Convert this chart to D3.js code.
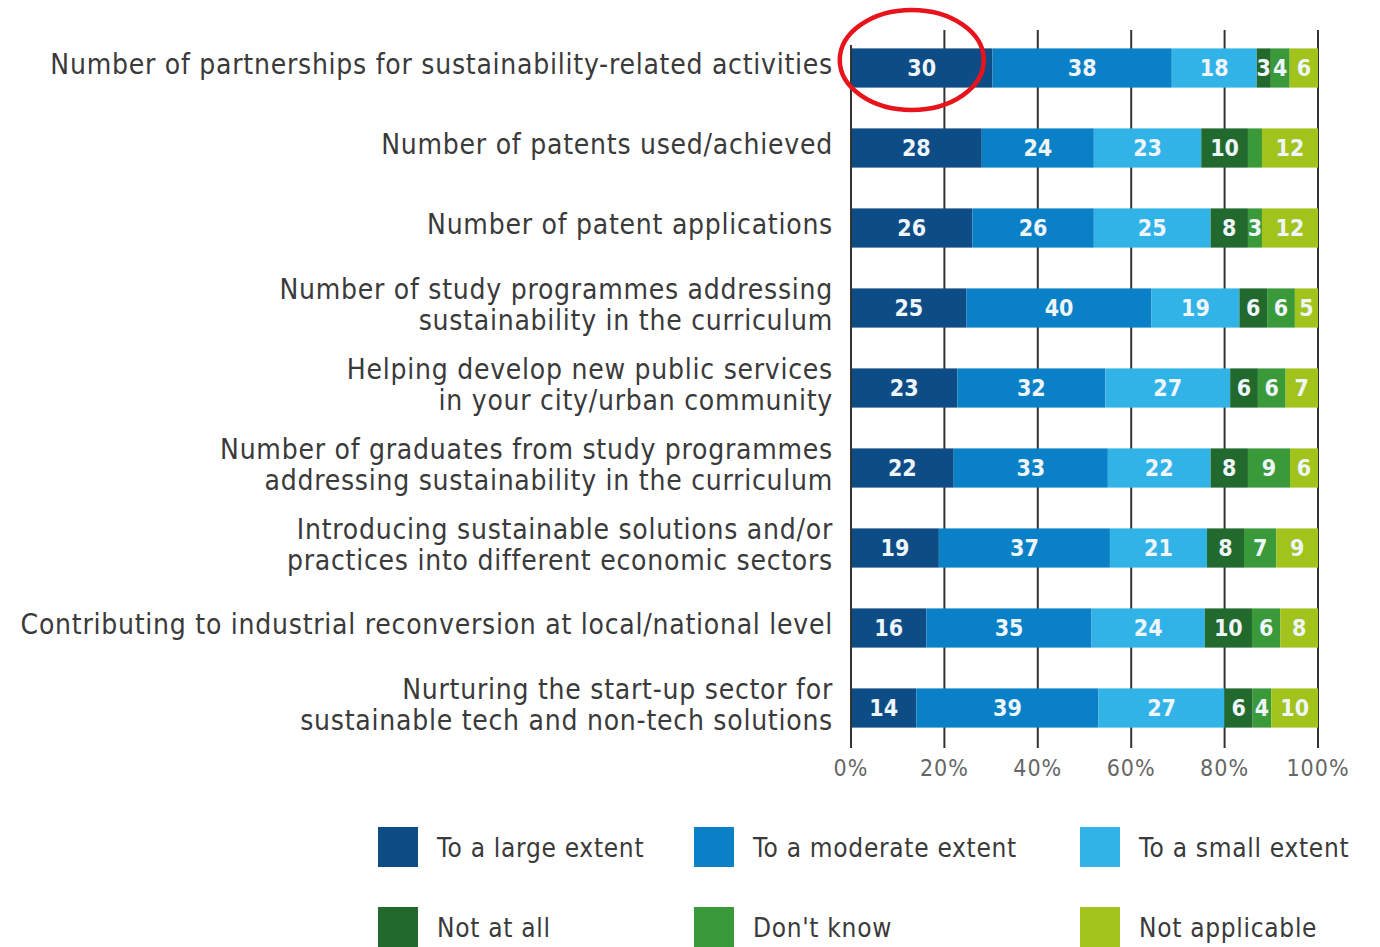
<!DOCTYPE html>
<html>
<head>
<meta charset="utf-8">
<title>Sustainability impact indicators</title>
<style>
body { margin: 0; background: #fff; }
svg { display: block; }
text { font-family: "DejaVu Sans Condensed", "Liberation Sans Narrow", "Roboto", sans-serif; }
.cat-label { font-size: 28px; letter-spacing: 0.75px; fill: #3a3a3a; text-anchor: end; }
.seg-label { font-size: 23px; font-weight: bold; fill: #eef5fb; text-anchor: middle; }
.tick-label { font-size: 23px; letter-spacing: 1px; fill: #666; text-anchor: middle; }
.legend-label { font-size: 26px; letter-spacing: 0.7px; fill: #3a3a3a; }
.grid { stroke: #333; stroke-width: 2; }
</style>
</head>
<body>
<svg id="chart" width="1380" height="947"></svg>
<script src="https://d3js.org/d3.v7.min.js"></script>
<script>

// categories, top to bottom ("|" marks a line break)
var categories = [
  "Number of partnerships for sustainability-related activities",
  "Number of patents used/achieved",
  "Number of patent applications",
  "Number of study programmes addressing|sustainability in the curriculum",
  "Helping develop new public services|in your city/urban community",
  "Number of graduates from study programmes|addressing sustainability in the curriculum",
  "Introducing sustainable solutions and/or|practices into different economic sectors",
  "Contributing to industrial reconversion at local/national level",
  "Nurturing the start-up sector for|sustainable tech and non-tech solutions"
];

var seriesNames = ["To a large extent", "To a moderate extent", "To a small extent",
                   "Not at all", "Don't know", "Not applicable"];
var seriesColors = ["#0d4c85", "#0a80c6", "#31b3e8", "#22692d", "#3a9a3a", "#a2c21c"];

var largeExtent    = [30, 28, 26, 25, 23, 22, 19, 16, 14];
var moderateExtent = [38, 24, 26, 40, 32, 33, 37, 35, 39];
var smallExtent    = [18, 23, 25, 19, 27, 22, 21, 24, 27];
var notAtAll       = [ 3, 10,  8,  6,  6,  8,  8, 10,  6];
var dontKnow       = [ 4,  3,  3,  6,  6,  9,  7,  6,  4];
var notApplicable  = [ 6, 12, 12,  5,  7,  6,  9,  8, 10];

// segments printed without a number in the original
var unlabeled = ["1-4"];

var xTicks = [0, 0.2, 0.4, 0.6, 0.8, 1];

var svg = d3.select("#chart");

var keys = d3.range(seriesNames.length);
var allSeries = [largeExtent, moderateExtent, smallExtent, notAtAll, dontKnow, notApplicable];
var rows = categories.map(function (c, i) {
  var r = { cat: c, idx: i };
  keys.forEach(function (k) { r[k] = allSeries[k][i]; });
  return r;
});

var stacked = d3.stack().keys(keys).offset(d3.stackOffsetExpand)(rows);

var x = d3.scaleLinear().domain([0, 1]).range([851, 1318]);
var y = d3.scaleBand().domain(categories).range([28, 748])
  .paddingInner(0.51).paddingOuter(0.255);
var color = d3.scaleOrdinal().domain(keys).range(seriesColors);

// grid lines (behind bars)
svg.append("g").selectAll("line")
  .data(xTicks.slice(1))
  .join("line")
  .attr("class", "grid")
  .attr("x1", function (d) { return x(d); })
  .attr("x2", function (d) { return x(d); })
  .attr("y1", 30).attr("y2", 748);

// bars
var layer = svg.append("g").selectAll("g")
  .data(stacked)
  .join("g")
  .attr("fill", function (d) { return color(d.key); });

layer.selectAll("rect")
  .data(function (d) { return d; })
  .join("rect")
  .attr("x", function (d) { return x(d[0]); })
  .attr("width", function (d) { return x(d[1]) - x(d[0]); })
  .attr("y", function (d) { return y(d.data.cat); })
  .attr("height", y.bandwidth());

// segment values
svg.append("g").selectAll("g")
  .data(stacked)
  .join("g")
  .selectAll("text")
  .data(function (s) {
    return s.map(function (d) { d.key = s.key; return d; })
      .filter(function (d) { return unlabeled.indexOf(d.data.idx + "-" + s.key) < 0; });
  })
  .join("text")
  .attr("class", "seg-label")
  .attr("x", function (d) { return (x(d[0]) + x(d[1])) / 2; })
  .attr("y", function (d) { return y(d.data.cat) + y.bandwidth() / 2; })
  .attr("dy", "0.36em")
  .text(function (d) { return d.data[d.key]; });

// 0% axis line
svg.append("line").attr("class", "grid")
  .attr("x1", x(0)).attr("x2", x(0)).attr("y1", 45).attr("y2", 748);

// x axis tick labels
svg.append("g").selectAll("text")
  .data(xTicks)
  .join("text")
  .attr("class", "tick-label")
  .attr("x", function (d) { return x(d); })
  .attr("y", 776)
  .text(d3.format(".0%"));

// category labels
svg.append("g").selectAll("text")
  .data(categories)
  .join("text")
  .attr("class", "cat-label")
  .attr("x", 833)
  .attr("y", function (d) { return y(d) + y.bandwidth() / 2; })
  .each(function (d) {
    var lines = d.split("|");
    var t = d3.select(this);
    var start = lines.length === 1 ? 6 : -9;
    lines.forEach(function (l, i) {
      t.append("tspan")
        .attr("x", 833)
        .attr("dy", i === 0 ? start : 31)
        .text(l);
    });
  });

// legend
var legendCols = [378, 694, 1080];
var legendRows = [827, 907];
var legend = svg.append("g").selectAll("g")
  .data(keys)
  .join("g")
  .attr("transform", function (k) {
    return "translate(" + legendCols[k % 3] + "," + legendRows[Math.floor(k / 3)] + ")";
  });
legend.append("rect")
  .attr("width", 40).attr("height", 40)
  .attr("fill", function (k) { return color(k); });
legend.append("text")
  .attr("class", "legend-label")
  .attr("x", 59).attr("y", 30)
  .text(function (k) { return seriesNames[k]; });

// red highlight ellipse around the first value
svg.append("ellipse")
  .attr("cx", (x(stacked[0][0][0]) + x(stacked[0][0][1])) / 2 - 10)
  .attr("cy", y(categories[0]) + y.bandwidth() / 2 - 8)
  .attr("rx", 72).attr("ry", 50)
  .attr("fill", "none")
  .attr("stroke", "#e8141c")
  .attr("stroke-width", 4.5);

</script>
</body>
</html>
